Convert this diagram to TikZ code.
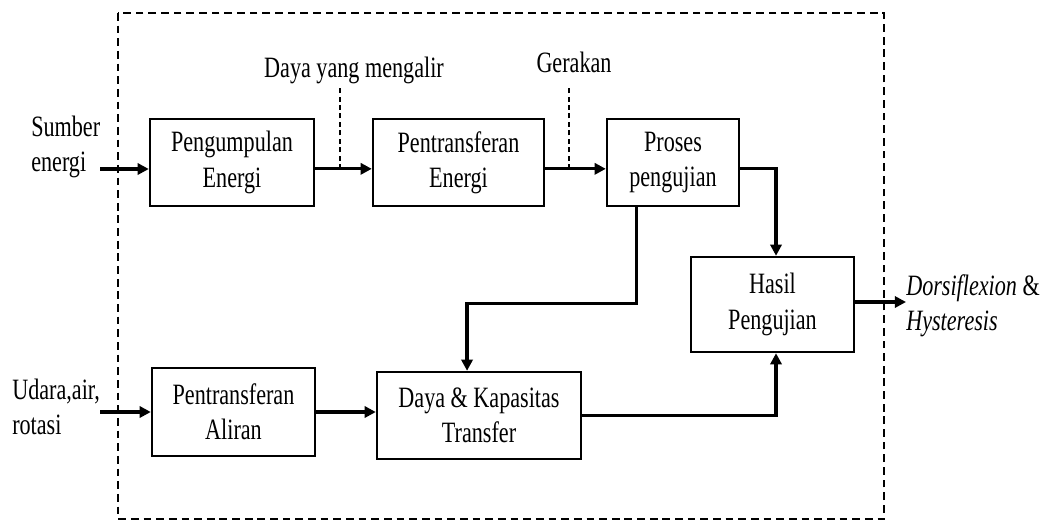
\documentclass[tikz,border=0pt]{standalone}
\usepackage{fontspec}
\setmainfont[FakeStretch=0.75]{Liberation Serif}
\usetikzlibrary{arrows.meta}
\usetikzlibrary{calc}

\begin{document}
\begin{tikzpicture}[x=0.025cm, y=-0.025cm,
    teks/.style={font=\fontsize{21}{25}\selectfont, inner sep=0pt},
    blok/.style={teks, draw, line width=1.7pt, align=center, minimum height=2.175cm},
    panah/.style={line width=2.3pt, -{Triangle[length=8pt,width=8pt]}},
    tanda/.style={line width=0.9pt, dash pattern=on 3.5pt off 2.5pt},
    batas/.style={line width=1.5pt, dash pattern=on 5.5pt off 3.5pt}]
      \useasboundingbox (0,0) rectangle (1057,521);
      \draw [batas] (118,13) rectangle (884,519);
      \node [blok, minimum width=4.1cm] (peng) at (232,162.5) {Pengumpulan\\Energi};
      \node [blok, minimum width=4.275cm] (ptE) at (458.5,162.5) {Pentransferan\\Energi};
      \node [blok, minimum width=3.3cm] (pros) at (673,162.5) {Proses\\pengujian};
      \node [blok, minimum width=4.075cm, minimum height=2.375cm] (hasil) at (772.5,304.5) {Hasil\\Pengujian};
      \node [blok, minimum width=4.075cm, minimum height=2.2cm] (aliran) at (233.5,412) {Pentransferan\\Aliran};
      \node [blok, minimum width=5.1cm] (daya) at (479,415.5) {Daya \& Kapasitas\\Transfer};
      \node [teks, anchor=west, align=left] (sumber) at (31,147) {Sumber\\energi};
      \node [teks, anchor=west, align=left] (udara) at (12,407) {Udara,air,\\rotasi};
      \node [teks, anchor=west, align=left] (dorsi) at (906,306) {\textit{Dorsiflexion} \&\\\textit{Hysteresis}};
      \node [teks] (lbldaya) at (354,70) {Daya yang mengalir};
      \node [teks] (lblgerak) at (574,62) {Gerakan};
      \coordinate (masuk1) at (100,169);
      \coordinate (masuk2) at (100,412);
      \coordinate (keluar) at (906,302);
      \coordinate (tik1) at (340,169);
      \coordinate (tik2) at (569,169);
      \draw [panah] (masuk1) -- (masuk1 -| peng.west);
      \draw [panah] ([yshift=-4.5pt]peng.east) -- ([yshift=-4.5pt]ptE.west);
      \draw [panah] ([yshift=-4.5pt]ptE.east) -- ([yshift=-4.5pt]pros.west);
      \draw [tanda] (tik1) -- ++(0,-83);
      \draw [tanda] (tik2) -- ++(0,-83);
      \draw [panah] ([yshift=-4.5pt]pros.east) -| ([xshift=2.5pt]hasil.north);
      \draw [panah] ([xshift=-26pt]pros.south) -- ++(0,96) -| ([xshift=-8.5pt]daya.north);
      \draw [panah] (masuk2) -- (masuk2 -| aliran.west);
      \draw [panah] (aliran.east) -- (aliran.east -| daya.west);
      \draw [panah] (daya.east) -| ([xshift=2.5pt]hasil.south);
      \draw [panah] (hasil.east |- keluar) -- (keluar);
    \end{tikzpicture}
\end{document}
